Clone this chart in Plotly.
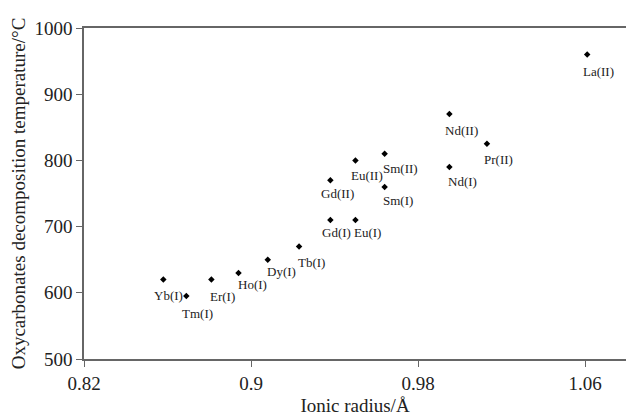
import plotly.graph_objects as go

labels = ["La(II)", "Nd(II)", "Pr(II)", "Nd(I)", "Sm(II)", "Sm(I)", "Eu(II)", "Eu(I)",
          "Gd(II)", "Gd(I)", "Tb(I)", "Dy(I)", "Ho(I)", "Er(I)", "Tm(I)", "Yb(I)"]
radius = [1.061, 0.995, 1.013, 0.995, 0.964, 0.964, 0.950, 0.950,
          0.938, 0.938, 0.923, 0.908, 0.894, 0.881, 0.869, 0.858]
temperature = [960, 870, 825, 790, 810, 760, 800, 710,
               770, 710, 670, 650, 630, 620, 595, 620]

# label offsets in pixels (style only)
label_shift = {
    "La(II)": (11, -17), "Nd(II)": (12, -16), "Pr(II)": (12, -16), "Nd(I)": (13, -14),
    "Sm(II)": (16, -15), "Sm(I)": (13, -14), "Eu(II)": (12, -15), "Eu(I)": (12, -13),
    "Gd(II)": (7, -13), "Gd(I)": (6, -13), "Tb(I)": (12, -16), "Dy(I)": (14, -12),
    "Ho(I)": (14, -12), "Er(I)": (11, -17), "Tm(I)": (11, -17), "Yb(I)": (5, -16),
}

SERIF = "Liberation Serif, Times New Roman, Times, serif"

fig = go.Figure(go.Scatter(
    x=radius, y=temperature, mode="markers",
    marker=dict(symbol="diamond", size=5, color="black"),
    hoverinfo="skip", showlegend=False,
))

for lab, xv, yv in zip(labels, radius, temperature):
    dx, dy = label_shift[lab]
    fig.add_annotation(x=xv, y=yv, text=lab, showarrow=False,
                       xshift=dx, yshift=dy,
                       font=dict(family=SERIF, size=13, color="#222"))

axis_common = dict(
    showgrid=False, zeroline=False, showline=True, linecolor="#666", linewidth=1.5,
    ticks="outside", ticklen=6, tickcolor="#666", tickwidth=1,
    tickfont=dict(family=SERIF, size=19, color="#222"),
)

fig.update_xaxes(range=[0.82, 1.0796], tick0=0.82, dtick=0.08, mirror=True,
                 title=dict(text="Ionic radius/Å", standoff=6,
                            font=dict(family=SERIF, size=19, color="#222")),
                 **axis_common)
fig.update_yaxes(range=[500, 1000], tick0=500, dtick=100,
                 title=dict(text="Oxycarbonates decomposition temperature/°C", standoff=4,
                            font=dict(family=SERIF, size=19, color="#222")),
                 **axis_common)

fig.update_layout(
    width=627, height=418,
    margin=dict(l=84, r=1, t=28, b=59),
    plot_bgcolor="white", paper_bgcolor="white",
)

fig.write_html("out.html")
